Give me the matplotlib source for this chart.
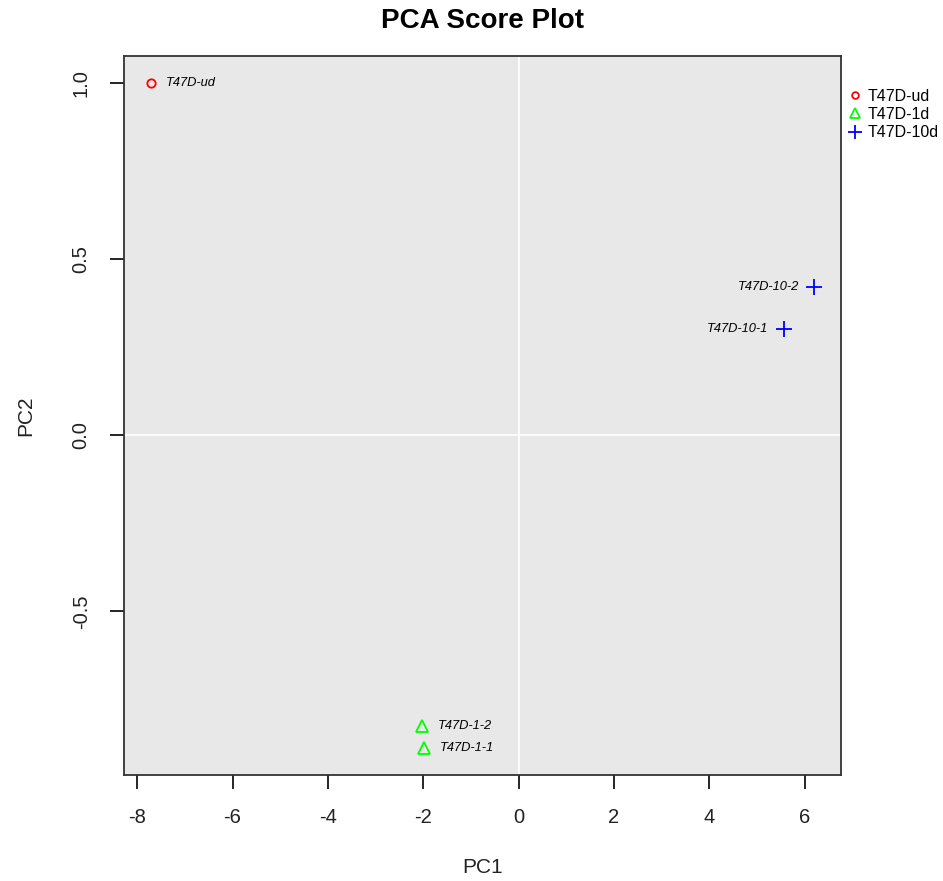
import matplotlib.pyplot as plt
from matplotlib.lines import Line2D

plt.rcParams["font.family"] = ["Liberation Sans", "DejaVu Sans"]
plt.rcParams["axes.unicode_minus"] = False

# PCA scores
sample_names = ["T47D-ud", "T47D-1-2", "T47D-1-1", "T47D-10-2", "T47D-10-1"]
pc1 = [-7.72, -2.02, -1.98, 6.20, 5.56]
pc2 = [1.00, -0.826, -0.889, 0.42, 0.30]
groups = ["T47D-ud", "T47D-1d", "T47D-1d", "T47D-10d", "T47D-10d"]

group_names = ["T47D-ud", "T47D-1d", "T47D-10d"]
group_colors = {"T47D-ud": "#FF0000", "T47D-1d": "#00FF00", "T47D-10d": "#0000FF"}
group_markers = {"T47D-ud": "o", "T47D-1d": "^", "T47D-10d": "+"}
group_sizes = {"T47D-ud": 6, "T47D-1d": 9, "T47D-10d": 12}
# label to the left for samples on the right side of the plot
label_side = {"T47D-ud": "right", "T47D-1d": "right", "T47D-10d": "left"}

fig = plt.figure(figsize=(9.43, 8.81), dpi=100)
ax = fig.add_axes([0.1315, 0.1203, 0.76, 0.8161])
ax.set_facecolor("#E8E8E8")

ax.axhline(0, color="white", linewidth=1.2, zorder=1)
ax.axvline(0, color="white", linewidth=1.2, zorder=1)

for name, x, y, g in zip(sample_names, pc1, pc2, groups):
    ax.plot(x, y, linestyle="none", marker=group_markers[g],
            markersize=group_sizes[g], markerfacecolor="none",
            markeredgecolor=group_colors[g], markeredgewidth=1.3, zorder=3)
    if label_side[g] == "right":
        ax.annotate(name, (x, y), xytext=(11, 0), textcoords="offset points",
                    ha="left", va="center", fontsize=9.3, style="italic")
    else:
        ax.annotate(name, (x, y), xytext=(-11, 0), textcoords="offset points",
                    ha="right", va="center", fontsize=9.3, style="italic")

# R-style 4% padding around the data
xr = max(pc1) - min(pc1)
yr = max(pc2) - min(pc2)
ax.set_xlim(min(pc1) - 0.04 * xr, max(pc1) + 0.04 * xr)
ax.set_ylim(min(pc2) - 0.04 * yr, max(pc2) + 0.04 * yr)

ax.set_xticks([-8, -6, -4, -2, 0, 2, 4, 6])
ax.set_yticks([-0.5, 0.0, 0.5, 1.0])
ax.set_yticklabels(["-0.5", "0.0", "0.5", "1.0"], rotation=90, va="center")
ax.tick_params(axis="both", length=10, width=1.2, pad=14, labelsize=14.5,
               labelcolor="#222222")

for sp in ax.spines.values():
    sp.set_color("#333333")
    sp.set_linewidth(1.3)

ax.set_xlabel("PC1", fontsize=15, labelpad=22, color="#222222")
ax.set_ylabel("PC2", fontsize=15, labelpad=26, color="#222222")
ax.set_title("PCA Score Plot", fontsize=20, fontweight="bold", pad=20)

handles = [Line2D([], [], linestyle="none", marker=group_markers[g],
                  markersize=group_sizes[g] * 0.8, markerfacecolor="none",
                  markeredgecolor=group_colors[g], markeredgewidth=1.3)
           for g in group_names]
fig.legend(handles, group_names, loc="upper left",
           bbox_to_anchor=(0.888, 0.912), frameon=False, fontsize=11.5,
           handlelength=0.8, handletextpad=0.4, labelspacing=0.2,
           borderpad=0.2)

fig.savefig("out.png", dpi=100)
